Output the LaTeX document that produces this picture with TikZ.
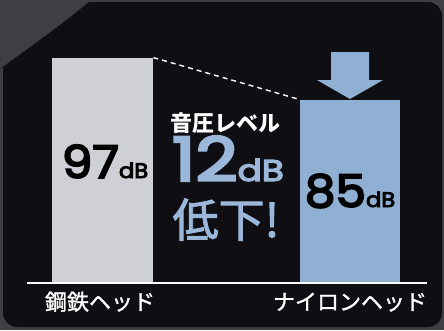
\documentclass[tikz,border=0pt]{standalone}
\usepackage{fontspec}
\newfontfamily\jp{Noto Sans CJK JP}
\newfontfamily\jpm[FakeBold=1.2]{Noto Sans CJK JP}
\newfontfamily\jpl[FakeBold=2]{Noto Sans CJK JP}
\newfontfamily\num[FakeBold=4]{Poppins}
\definecolor{outgrey}{HTML}{3E3E44}
\definecolor{panel}{HTML}{0E0E13}
\definecolor{steel}{HTML}{CFD0D5}
\definecolor{nylon}{HTML}{8FB0D3}
\definecolor{bluetxt}{HTML}{9BB7DA}
\begin{document}
\begin{tikzpicture}[x=1pt,y=-1pt,
  bar/.style={draw=none,inner sep=0pt,anchor=south west},
  txt/.style={inner sep=0pt,outer sep=0pt},
  value/.style={txt,text=black,font=\num},
  label/.style={txt,text=white,font=\jpm\fontsize{22}{22}\selectfont},
  big/.style={txt,text=bluetxt}]
\useasboundingbox (0,0) rectangle (444,330);
\fill[outgrey] (0,0) rectangle (444,330);
\fill[panel] (0,69) .. controls (30,47) and (60,26) .. (89,2)
  [rounded corners=14pt] -- (442,2) -- (442,327) -- (3,327) [sharp corners] -- (3,67) -- cycle;
\node[bar,fill=steel,minimum width=101pt,minimum height=225pt] (lbar) at (52,283) {};
\node[bar,fill=nylon,minimum width=100pt,minimum height=183pt] (rbar) at (300,283) {};
\coordinate (b0) at (27,283);
\coordinate (b1) at (427,283);
\draw[white,line width=1.4pt] (b0) -- (b1);
\draw[white,line width=1.4pt,dash pattern=on 5pt off 4pt] (lbar.north east) -- (rbar.north west);
\fill[nylon] (331,52) -- (369,52) -- (369,80) -- (383,80) -- (350,99) -- (317,80) -- (331,80) -- cycle;
\node[value,anchor=base] (v97) at (105,178) {\scalebox{1.08}[1]{\fontsize{45}{45}\selectfont 97\fontsize{21}{21}\selectfont dB}};
\node[value,anchor=base] (v85) at (350,207) {\scalebox{1.08}[1]{\fontsize{45}{45}\selectfont 85\fontsize{21}{21}\selectfont dB}};
\node[txt,text=white,font=\jp\bfseries\fontsize{22}{22}\selectfont] (sp) at (225,123) {音圧レベル};
\node[big,anchor=base,font=\num,text depth=0pt] (d12) at (228,181) {\scalebox{1.2}[1]{\fontsize{61}{61}\selectfont 12\fontsize{30}{30}\selectfont dB}};
\node[big,anchor=base,font=\jpl\fontsize{46}{46}\selectfont,text height=36pt,text depth=2pt] (low) at (226,237) {低下!};
\node[label,anchor=base] (l1) at (100,310) {鋼鉄ヘッド};
\node[label,anchor=base] (l2) at (350,310) {ナイロンヘッド};
\end{tikzpicture}
\end{document}
